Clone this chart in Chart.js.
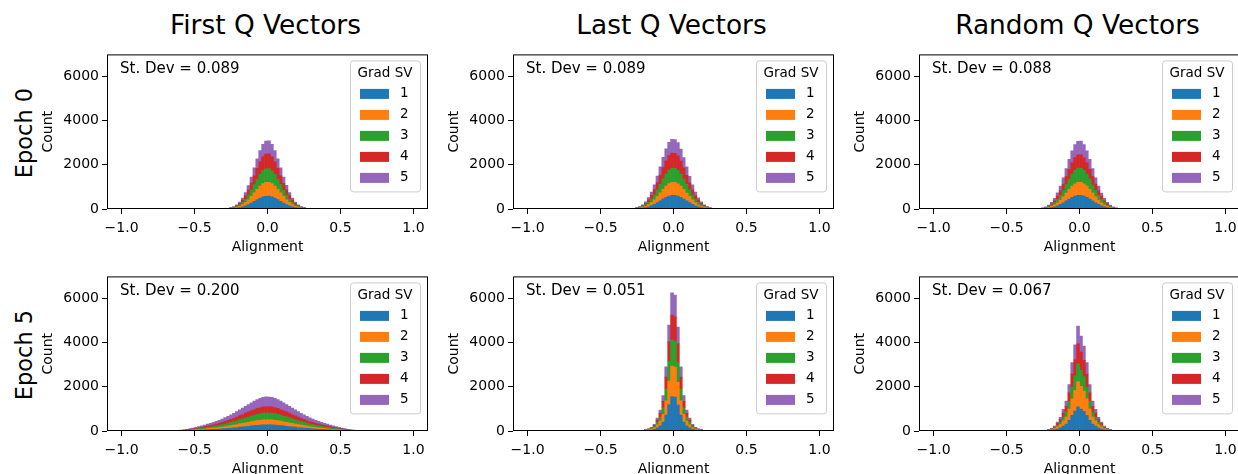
<!DOCTYPE html>
<html>
<head>
<meta charset="utf-8">
<script src="https://cdn.jsdelivr.net/npm/chart.js@4.4.1/dist/chart.umd.min.js"></script>
<style>
  html, body { margin: 0; padding: 0; background: #fff; }
  body { width: 1238px; height: 474px; position: relative; overflow: hidden; font-family: "DejaVu Sans", sans-serif; color: #000; }
  .colTitle { position: absolute; font-size: 26.4px; line-height: 1; transform: translateX(-50%); white-space: nowrap; }
  .rowTitle { position: absolute; font-size: 22.5px; line-height: 1; transform: translate(-50%, -50%) rotate(-90deg); white-space: nowrap; }
</style>
</head>
<body>
<script>
// Titles and labels
const colTitles = ["First Q Vectors", "Last Q Vectors", "Random Q Vectors"];
const rowTitles = ["Epoch 0", "Epoch 5"];
const svLabels = ["1", "2", "3", "4", "5"];
const svColors = ["#1f77b4", "#ff7f0e", "#2ca02c", "#d62728", "#9467bd"];
const xTicks = [-1.0, -0.5, 0.0, 0.5, 1.0];
const yTicks = [0, 2000, 4000, 6000];
const binWidth = 0.02;

// one entry per panel: epoch 0 (first, last, random), epoch 5 (first, last, random)
const stDevs = [0.089, 0.089, 0.088, 0.200, 0.051, 0.067];
const firstBinCenters = [-0.29, -0.29, -0.29, -0.69, -0.25, -0.27];

// histogram counts, one array per grad SV
const epoch0First = [
  [3,5,11,21,36,60,94,141,201,273,350,428,498,552,578,580,550,497,427,351,271,202,140,95,59,36,20,11,6,3],
  [3,6,12,23,39,64,103,152,219,294,382,464,542,598,628,631,600,540,466,380,296,217,154,101,65,38,23,12,6,2],
  [3,6,12,22,37,63,99,150,212,289,370,455,527,585,613,616,583,529,453,372,287,214,148,100,62,38,22,12,5,3],
  [3,7,13,24,41,69,107,163,229,313,401,492,570,633,663,666,631,572,490,403,311,231,161,108,68,42,24,13,7,3],
  [3,6,11,21,37,60,96,143,205,276,357,434,508,560,588,591,562,506,436,355,278,203,144,95,61,36,21,11,6,3]
];
const epoch0Last = [
  [2,6,12,23,38,64,100,151,214,291,374,457,531,589,617,614,586,529,454,371,289,212,149,99,63,37,22,11,6,3],
  [3,6,11,21,36,61,95,143,204,277,356,436,506,562,588,586,558,505,433,354,276,203,142,95,60,36,21,11,6,3],
  [3,6,12,23,39,65,103,155,220,300,385,470,547,606,635,632,604,546,468,384,298,219,154,102,65,39,23,12,6,3],
  [4,7,13,25,42,71,112,168,239,325,418,510,594,657,690,688,655,593,509,417,324,238,167,111,70,42,25,13,7,3],
  [3,6,12,23,39,64,102,153,218,297,381,466,542,601,630,627,599,541,465,382,296,217,152,102,64,39,23,12,6,3]
];
const epoch0Random = [
  [3,6,11,21,36,61,95,147,208,285,369,452,530,584,615,617,586,529,453,368,284,209,146,96,60,36,20,11,6,3],
  [3,5,10,19,35,57,93,138,200,270,352,430,505,558,590,588,559,504,431,351,271,199,139,92,58,34,19,10,5,3],
  [3,6,11,21,38,62,100,151,214,292,380,465,545,602,633,635,603,544,466,379,293,215,150,99,62,37,21,11,6,3],
  [3,6,11,20,36,59,96,145,208,285,366,452,526,585,613,615,584,527,451,367,284,208,145,96,60,36,20,11,6,3],
  [3,5,11,21,35,61,95,146,207,283,366,452,528,585,615,615,585,528,452,366,283,207,146,95,61,35,21,11,5,3]
];
const epoch5First = [
  [1,1,2,3,5,7,10,14,19,25,30,37,42,50,56,64,70,79,87,98,108,120,131,145,158,174,187,203,216,231,243,257,266,275,279,
   277,274,266,256,243,229,216,202,187,173,158,144,131,119,108,97,87,78,70,63,56,49,42,36,30,24,19,14,10,7,5,3,2,1,1],
  [0,1,2,2,4,6,8,12,16,21,25,30,36,41,48,53,60,66,73,82,89,100,109,121,131,145,155,169,179,192,202,214,221,229,232,
   231,228,222,213,203,191,180,168,156,144,132,120,110,99,90,81,73,65,59,53,47,41,35,30,25,20,16,12,8,6,4,2,2,1,0],
  [1,1,2,3,5,8,11,16,21,27,34,40,47,55,62,71,78,88,97,109,121,133,146,161,175,193,207,225,239,255,269,285,295,305,306,
   308,304,296,284,270,254,240,224,208,192,176,160,146,132,120,108,97,87,78,70,62,54,47,40,33,27,21,16,11,8,5,3,2,1,1],
  [1,1,2,3,5,7,10,15,21,26,32,38,45,52,60,67,75,83,93,102,115,126,140,151,168,181,199,212,229,240,258,269,282,288,294,
   293,289,281,270,257,241,228,213,198,182,167,152,139,125,114,103,92,83,74,67,59,51,45,38,31,26,20,15,10,7,5,3,2,1,1],
  [1,2,3,4,7,11,16,22,30,37,47,56,67,75,88,97,110,121,137,150,169,184,205,223,247,268,292,313,337,355,379,397,415,425,433,
   431,426,414,398,378,356,336,314,291,269,246,224,204,185,168,151,136,122,109,98,87,76,66,56,46,38,29,22,15,11,7,4,3,2,1]
];
const epoch5Last = [
  [3,5,9,15,25,43,75,148,238,400,725,1200,1563,1538,1175,725,400,238,148,75,43,25,15,9,5,2],
  [2,4,8,13,22,37,66,130,209,352,638,1056,1375,1353,1034,638,352,209,130,66,37,22,13,8,4,2],
  [2,4,7,11,19,32,57,112,181,304,551,912,1188,1169,893,551,304,181,112,57,32,19,11,7,4,2],
  [2,4,6,11,18,31,54,106,171,288,522,864,1125,1107,846,522,288,171,106,54,31,18,11,6,4,2],
  [1,3,5,10,16,27,48,94,152,256,464,768,1000,984,752,464,256,152,94,48,27,16,10,5,3,2]
];
const epoch5Random = [
  [2,4,8,15,28,51,92,143,225,311,483,713,897,1093,989,886,713,483,311,225,143,92,51,28,15,8,4,2],
  [2,4,8,16,29,53,96,149,235,324,504,744,936,1140,1032,924,744,504,324,235,149,96,53,29,16,8,4,2],
  [2,3,6,11,20,37,68,105,167,230,357,527,663,808,731,655,527,357,230,167,105,68,37,20,11,6,3,2],
  [2,3,7,12,23,42,76,118,186,257,399,589,741,903,817,732,589,399,257,186,118,76,42,23,12,7,3,2],
  [1,4,6,11,20,37,68,105,167,228,357,527,663,806,731,653,527,357,228,166,105,68,37,20,11,6,4,1]
];
const panelCounts = [epoch0First, epoch0Last, epoch0Random, epoch5First, epoch5Last, epoch5Random];

// layout (px)
const plotLefts = [107, 513, 919];
const plotTops = [51, 273];
const plotW = 321, plotH = 158;
const axisW = 70, axisH = 50, padTop = 8, padRight = 8;

Chart.defaults.font.family = "'DejaVu Sans', sans-serif";
Chart.defaults.font.size = 14;
Chart.defaults.color = "#000";

// frame, st. dev text and legend drawn inside the axes
const panelDecor = {
  id: "panelDecor",
  afterDraw(chart, args, opts) {
    const ctx = chart.ctx, a = chart.chartArea;
    ctx.save();
    ctx.strokeStyle = "#000";
    ctx.lineWidth = 1;
    ctx.strokeRect(a.left + 0.5, a.top + 0.5, a.right - a.left - 1, a.bottom - a.top - 1);

    ctx.font = "15px 'DejaVu Sans'";
    ctx.fillStyle = "#000";
    ctx.textBaseline = "middle";
    ctx.textAlign = "left";
    ctx.fillText("St. Dev = " + opts.sd.toFixed(3), a.left + 13, a.top + 15);

    const bw = 70, bh = 131;
    const x0 = a.right - 8 - bw, y0 = a.top + 6;
    ctx.beginPath();
    ctx.roundRect(x0 + 0.5, y0 + 0.5, bw, bh, 3);
    ctx.fillStyle = "rgba(255,255,255,0.8)";
    ctx.fill();
    ctx.strokeStyle = "#cccccc";
    ctx.stroke();
    ctx.font = "13.5px 'DejaVu Sans'";
    ctx.fillStyle = "#000";
    ctx.textAlign = "center";
    ctx.fillText(opts.title, x0 + bw / 2, y0 + 13);
    chart.data.datasets.forEach((ds, i) => {
      const cy = y0 + 33.5 + i * 21;
      ctx.fillStyle = ds.backgroundColor;
      ctx.fillRect(x0 + 10, cy - 5, 29, 10);
      ctx.fillStyle = "#000";
      ctx.textAlign = "left";
      ctx.fillText(ds.label, x0 + 50, cy);
    });
    ctx.restore();
  }
};

const fmtX = v => {
  const s = Math.abs(v).toFixed(1);
  return v < 0 ? "\u2212" + s : s;
};

// titles
colTitles.forEach((t, c) => {
  const d = document.createElement("div");
  d.className = "colTitle";
  d.textContent = t;
  d.style.left = (plotLefts[c] + plotW / 2 - 2) + "px";
  d.style.top = "12px";
  document.body.appendChild(d);
});
rowTitles.forEach((t, r) => {
  const d = document.createElement("div");
  d.className = "rowTitle";
  d.textContent = t;
  d.style.left = "24px";
  d.style.top = (plotTops[r] + plotH / 2 + 3) + "px";
  document.body.appendChild(d);
});

// charts
panelCounts.forEach((counts, p) => {
  const row = Math.floor(p / 3), col = p % 3;
  const canvas = document.createElement("canvas");
  canvas.width = axisW + plotW + padRight;
  canvas.height = padTop + plotH + axisH;
  canvas.style.position = "absolute";
  canvas.style.left = (plotLefts[col] - axisW) + "px";
  canvas.style.top = (plotTops[row] - padTop) + "px";
  document.body.appendChild(canvas);

  const datasets = counts.map((vals, s) => ({
    label: svLabels[s],
    data: vals.map((y, i) => ({ x: +(firstBinCenters[p] + i * binWidth).toFixed(2), y: y })),
    backgroundColor: svColors[s],
    borderWidth: 0,
    barPercentage: 1,
    categoryPercentage: 1
  }));

  new Chart(canvas, {
    type: "bar",
    data: { datasets: datasets },
    options: {
      responsive: false,
      animation: false,
      devicePixelRatio: 1,
      layout: { padding: { top: padTop, right: padRight, left: 0, bottom: 0 } },
      plugins: {
        legend: { display: false },
        tooltip: { enabled: false },
        panelDecor: { sd: stDevs[p], title: "Grad SV" }
      },
      scales: {
        x: {
          type: "linear", stacked: true, min: -1.1, max: 1.1, offset: false,
          afterBuildTicks: ax => { ax.ticks = xTicks.map(v => ({ value: v })); },
          afterFit: ax => { ax.height = axisH; },
          ticks: { callback: fmtX, padding: 6, maxRotation: 0, autoSkip: false },
          grid: { drawOnChartArea: false, tickLength: 5, color: "#000", offset: false },
          border: { display: false },
          title: { display: true, text: "Alignment", padding: { top: 0, bottom: 3 } }
        },
        y: {
          stacked: true, min: 0, max: 7000,
          afterBuildTicks: ax => { ax.ticks = yTicks.map(v => ({ value: v })); },
          afterFit: ax => { ax.width = axisW; },
          ticks: { callback: v => String(v), padding: 3 },
          grid: { drawOnChartArea: false, tickLength: 5, color: "#000" },
          border: { display: false },
          title: { display: true, text: "Count", padding: { top: 3, bottom: 0 } }
        }
      }
    },
    plugins: [panelDecor]
  });
});
</script>
</body>
</html>
